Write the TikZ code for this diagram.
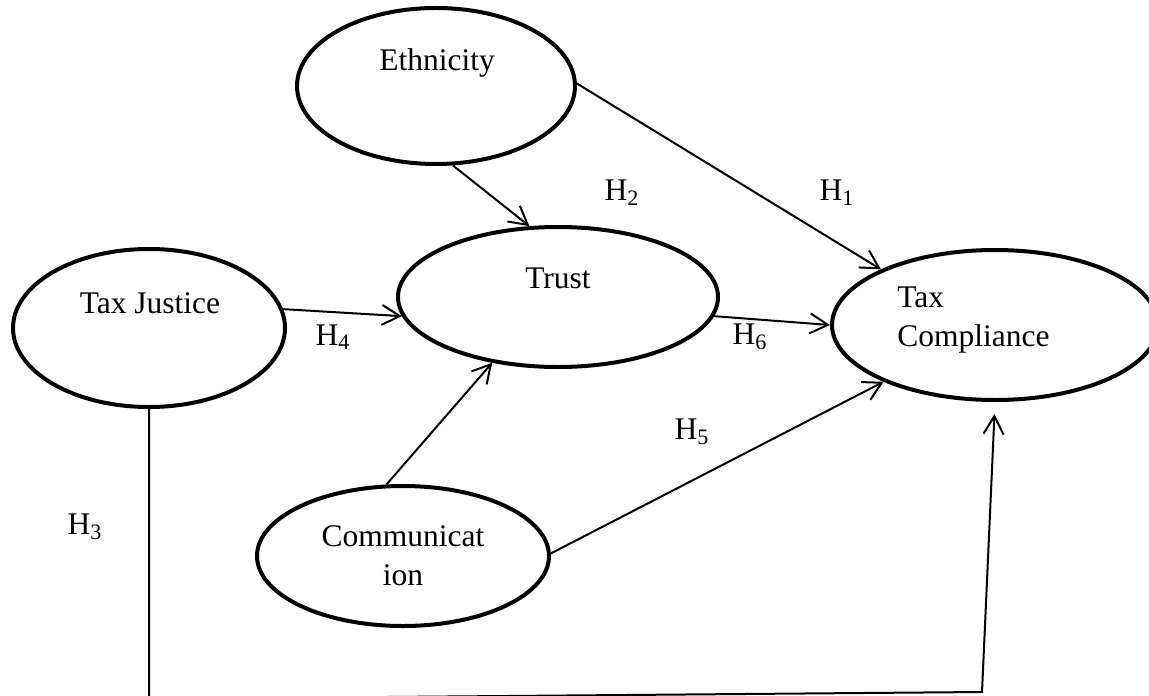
\documentclass[tikz,border=0pt]{standalone}
\usepackage{fontspec}
\setmainfont{Liberation Serif}
\usetikzlibrary{arrows.meta,shapes,positioning}
\tikzstyle{construct}=[draw,ellipse,line width=2pt,inner sep=0pt]
\tikzstyle{caption}=[font=\fontsize{15.75}{19.5}\selectfont,inner sep=0pt]
\tikzstyle{hyp}=[font=\fontsize{15.75}{19.5}\selectfont,inner sep=0pt]
\tikzstyle{link}=[line width=1pt,-{Straight Barb[length=9pt,width=10pt]}]

\begin{document}
\begin{tikzpicture}[x=0.5pt,y=-0.5pt]
  \useasboundingbox (0,0) rectangle (1149,695);
  \node[construct,minimum width=139pt,minimum height=78pt] (ethn) at (436,86) {};
  \node[construct,minimum width=160pt,minimum height=70pt] (trust) at (558,297) {};
  \node[construct,minimum width=136pt,minimum height=79pt] (taxJ) at (149,328) {};
  \node[construct,minimum width=146pt,minimum height=70pt] (comm) at (403,556) {};
  \node[construct,minimum width=163pt,minimum height=75pt] (taxC) at (995,325) {};

  \node[caption] (ethnT) at (437,63) {Ethnicity};
  \node[caption] (trustT) at (558,278) {Trust};
  \node[caption] (taxJT) at (150,303) {Tax Justice};
  \node[caption,align=center] (commT) at (403,556) {Communicat\\ion};
  \node[caption,align=left,anchor=west] (taxCT) at (897,320) {Tax\\Compliance};

  \node[hyp] (hypA) at (837,193) {H\textsubscript{1}};
  \node[hyp] (hypB) at (622,193) {H\textsubscript{2}};
  \node[hyp] (hypC) at (85,527) {H\textsubscript{3}};
  \node[hyp] (hypD) at (333,337) {H\textsubscript{4}};
  \node[hyp] (hypE) at (692,432) {H\textsubscript{5}};
  \node[hyp] (hypF) at (750,337) {H\textsubscript{6}};

  \draw[link] (ethn.1) -- (taxC.154);
  \draw[link] (ethn.-78) -- (trust.112);
  \draw[link] (taxJ.8) -- (trust.-173);
  \draw[link] (trust.-7) -- (taxC.180);
  \draw[link] (comm.103) -- (trust.-135);
  \draw[link] (comm.1) -- (taxC.-153);
  \coordinate (bendL) at (147,699);
  \coordinate (bendR) at (982,692);
  \draw[link,shorten >=6pt] (taxJ.south) -- (taxJ.south |- bendL) -- (bendR) -- (taxC.south);
\end{tikzpicture}
\end{document}
